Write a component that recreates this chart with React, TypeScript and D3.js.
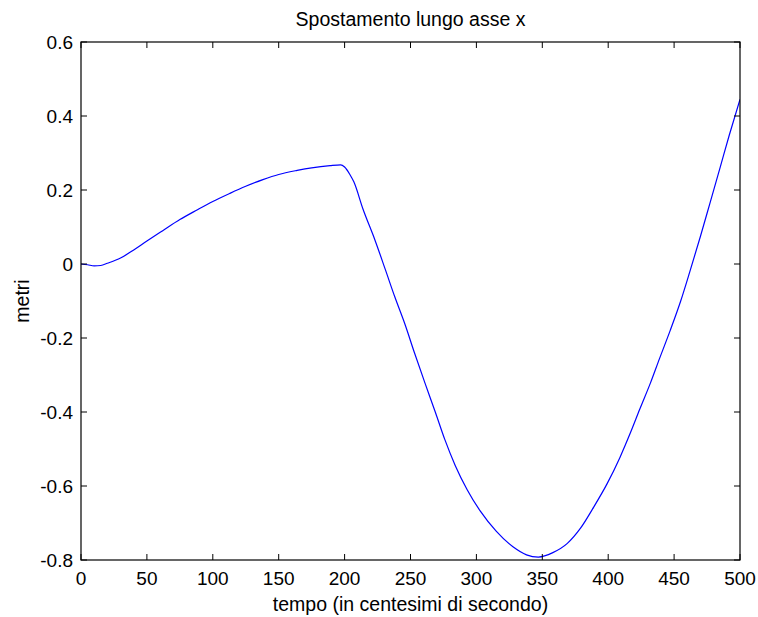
import React from "react";
import * as d3 from "d3";

const title = "Spostamento lungo asse x";
const xLabel = "tempo (in centesimi di secondo)";
const yLabel = "metri";

const xTicks = [0, 50, 100, 150, 200, 250, 300, 350, 400, 450, 500];
const yTicks = [-0.8, -0.6, -0.4, -0.2, 0, 0.2, 0.4, 0.6];
const yTickLabels = ["-0.8", "-0.6", "-0.4", "-0.2", "0", "0.2", "0.4", "0.6"];

const tempo = [
  0, 5, 10, 15, 20, 30, 40, 50, 62, 75, 88, 100, 113, 125, 138, 150, 164, 175,
  189, 197, 200, 204, 207, 214, 223, 231, 238, 246, 253, 261, 269, 276, 284,
  293, 303, 315, 328, 338, 347, 358, 369, 379, 389, 399, 409, 417, 424,
  432, 439, 447, 455, 462, 470, 477, 485, 492, 500,
];
const spostamento = [
  0, -0.002, -0.005, -0.004, 0.002, 0.016, 0.038, 0.062, 0.09, 0.12, 0.146,
  0.169, 0.191, 0.21, 0.228, 0.242, 0.253, 0.26, 0.266, 0.268, 0.262, 0.242,
  0.222, 0.148, 0.065, -0.016, -0.088, -0.165, -0.24, -0.322, -0.402, -0.474,
  -0.545, -0.61, -0.668, -0.722, -0.765, -0.786, -0.792, -0.78, -0.755,
  -0.714, -0.657, -0.595, -0.522, -0.455, -0.392, -0.322, -0.255,
  -0.18, -0.1, -0.02, 0.075, 0.162, 0.262, 0.35, 0.445,
];

const W = 758;
const H = 617;
const M = { left: 81, right: 740, top: 42, bottom: 560 };
const FONT = "Arial, 'Liberation Sans', Helvetica, sans-serif";

export default function App() {
  const x = d3.scaleLinear().domain([0, 500]).range([M.left, M.right]);
  const y = d3.scaleLinear().domain([-0.8, 0.6]).range([M.bottom, M.top]);
  const pts = tempo.map((t, i) => [t, spostamento[i]] as [number, number]);
  const line = d3
    .line<[number, number]>()
    .x((d) => x(d[0]))
    .y((d) => y(d[1]))
    .curve(d3.curveMonotoneX);
  const tl = 6;

  return (
    <svg
      width={W}
      height={H}
      style={{ position: "absolute", left: 0, top: 0, background: "#fff" }}
      fontFamily={FONT}
    >
      <rect x={0} y={0} width={W} height={H} fill="#fff" />
      <defs>
        <clipPath id="plotclip">
          <rect x={M.left} y={M.top} width={M.right - M.left} height={M.bottom - M.top} />
        </clipPath>
      </defs>
      <path
        d={line(pts) || ""}
        fill="none"
        stroke="#0000ff"
        strokeWidth={1.2}
        clipPath="url(#plotclip)"
      />
      <rect
        x={M.left}
        y={M.top}
        width={M.right - M.left}
        height={M.bottom - M.top}
        fill="none"
        stroke="#000"
        strokeWidth={1.2}
      />
      {xTicks.map((t) => (
        <g key={"x" + t}>
          <line x1={x(t)} x2={x(t)} y1={M.bottom} y2={M.bottom - tl} stroke="#000" />
          <line x1={x(t)} x2={x(t)} y1={M.top} y2={M.top + tl} stroke="#000" />
          <text x={x(t)} y={585} fontSize={19} textAnchor="middle" fill="#000">
            {t}
          </text>
        </g>
      ))}
      {yTicks.map((v, i) => (
        <g key={"y" + v}>
          <line x1={M.left} x2={M.left + tl} y1={y(v)} y2={y(v)} stroke="#000" />
          <line x1={M.right} x2={M.right - tl} y1={y(v)} y2={y(v)} stroke="#000" />
          <text x={73} y={y(v) + 7} fontSize={19} textAnchor="end" fill="#000">
            {yTickLabels[i]}
          </text>
        </g>
      ))}
      <text x={(M.left + M.right) / 2} y={26} fontSize={19.5} textAnchor="middle" fill="#000">
        {title}
      </text>
      <text x={(M.left + M.right) / 2} y={611} fontSize={19.5} textAnchor="middle" fill="#000">
        {xLabel}
      </text>
      <text
        transform={`translate(29, ${(M.top + M.bottom) / 2}) rotate(-90)`}
        fontSize={19.5}
        textAnchor="middle"
        fill="#000"
      >
        {yLabel}
      </text>
    </svg>
  );
}
